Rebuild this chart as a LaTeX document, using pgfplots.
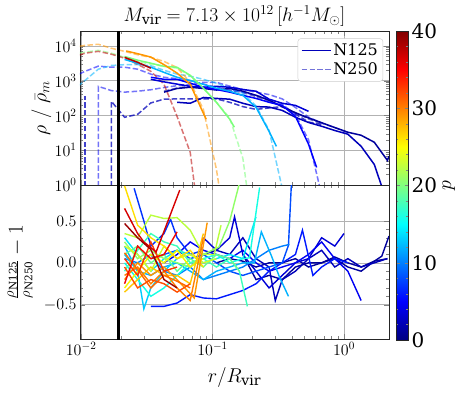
\RequirePackage{fix-cm}
\documentclass[border=0pt]{standalone}
\usepackage{fontspec}
\setmainfont{DejaVu Serif}
\usepackage{pgfplots}
\pgfplotsset{compat=1.18}
\usetikzlibrary{calc}
\definecolor{c1}{rgb}{0,0,0.61}
\definecolor{c2}{rgb}{0,0,0.73}
\definecolor{c3}{rgb}{0,0,0.84}
\definecolor{c4}{rgb}{0,0,0.95}
\definecolor{c5}{rgb}{0,0,1}
\definecolor{c6}{rgb}{0,0.1,1}
\definecolor{c7}{rgb}{0,0.2,1}
\definecolor{c8}{rgb}{0,0.3,1}
\definecolor{c10}{rgb}{0,0.5,1}
\definecolor{c12}{rgb}{0,0.7,1}
\definecolor{c13}{rgb}{0,0.8,1}
\definecolor{c14}{rgb}{0,0.9,0.97}
\definecolor{c15}{rgb}{0.08,1,0.89}
\definecolor{c17}{rgb}{0.24,1,0.73}
\definecolor{c19}{rgb}{0.40,1,0.56}
\definecolor{c20}{rgb}{0.48,1,0.48}
\definecolor{c21}{rgb}{0.56,1,0.40}
\definecolor{c23}{rgb}{0.73,1,0.24}
\definecolor{c24}{rgb}{0.81,1,0.16}
\definecolor{c26}{rgb}{0.97,0.96,0}
\definecolor{c27}{rgb}{1,0.87,0}
\definecolor{c28}{rgb}{1,0.78,0}
\definecolor{c30}{rgb}{1,0.59,0}
\definecolor{c31}{rgb}{1,0.5,0}
\definecolor{c32}{rgb}{1,0.41,0}
\definecolor{c33}{rgb}{1,0.31,0}
\definecolor{c34}{rgb}{1,0.22,0}
\definecolor{c36}{rgb}{0.95,0.04,0}
\definecolor{c37}{rgb}{0.84,0,0}
\definecolor{c38}{rgb}{0.73,0,0}
\definecolor{c39}{rgb}{0.61,0,0}
\tikzset{
  mysol/.style={line width=1.5pt},
  mydas/.style={line width=1.5pt, dash pattern=on 5.5pt off 2.4pt, opacity=0.55},
  mydasd/.style={line width=1.5pt, dash pattern=on 5.5pt off 2.4pt, opacity=0.75},
  mybl/.style={line width=1.4pt},
}
\pgfplotsset{legend image code/.code={\draw[#1] (0pt,0pt) -- (29pt,0pt);}}
\begin{document}
\begin{tikzpicture}
\begin{axis}[name=top,
  scale only axis, width=309pt, height=154pt,
  xmode=log, xmin=0.0098, xmax=2.2,
  ymode=log, ymin=1, ymax=2.7e4,
  tick align=inside, grid=major,
  major grid style={black!30, line width=0.6pt},
  axis line style={black!85, line width=0.7pt},
  major tick length=5pt, minor tick length=2.8pt,
  tick label style={font=\fontsize{16}{19}\selectfont},
  label style={font=\fontsize{20}{24}\selectfont},
  title={$M_{\mathrm{vir}}=7.13\times10^{12}\,[h^{-1}M_\odot]$},
  title style={at={(0.5,1)}, anchor=south, yshift=-4.5pt, font=\fontsize{19.5}{23}\selectfont},
  ytick={1,10,100,1000,10000}, xtick={0.01,0.1,1}, xticklabels={},
  ylabel={$\rho\ /\ \bar{\rho}_m$},
  ylabel style={at={(axis description cs:-0.125,0.5)}, anchor=center},
  legend style={at={(0.981,0.952)}, anchor=north east, draw=black!20, rounded corners=3pt,
    font=\fontsize{16}{19}\selectfont, row sep=2pt, inner sep=3pt},
  legend cell align=left,
]
\addplot[c2, mydasd, forget plot] coordinates {(0.0107,0.001)(0.0107,355)};
\addplot[c2, mydasd, forget plot] coordinates {(0.0170,0.001)(0.0170,255)(0.0214,89)(0.0269,108)(0.0339,230)(0.0427,295)(0.0537,300)(0.0676,300)(0.0851,300)(0.107,300)(0.135,240)(0.170,180)(0.214,150)(0.269,165)(0.339,180)(0.427,110)(0.537,65)(0.676,55)};
\addplot[c1, mydas, forget plot] coordinates {(0.0427,500)(0.0537,620)(0.0676,700)(0.0851,650)(0.107,560)(0.135,520)(0.170,460)(0.214,350)(0.269,260)(0.339,180)(0.427,120)(0.537,80)(0.676,58)};
\addplot[c4, mydas, forget plot] coordinates {(0.0135,0.001)(0.0135,690)(0.0170,520)(0.0214,470)(0.0269,500)(0.0339,550)(0.0427,640)(0.0537,720)(0.0676,790)(0.0851,900)(0.107,900)(0.135,700)(0.170,560)(0.214,470)(0.269,400)(0.339,300)(0.427,170)(0.537,90)(0.676,60)(0.851,45)(1.07,32)};
\addplot[c5, mydas, forget plot] coordinates {(0.0085,1260)(0.0107,1860)(0.0135,2630)(0.0170,2450)(0.0214,2450)(0.0269,2150)(0.0339,1550)(0.0427,1260)(0.0537,1150)(0.0676,1000)(0.0851,800)(0.107,650)(0.135,550)(0.170,470)(0.214,380)(0.269,300)(0.339,210)(0.427,107)(0.537,20)(0.653,0.9)};
\addplot[c12, mydas, forget plot] coordinates {(0.0085,500)(0.0107,1020)(0.0135,2150)(0.0170,2750)(0.0214,2900)(0.0269,2900)(0.0339,2700)(0.0427,2000)(0.0537,1550)(0.0676,1350)(0.0851,1100)(0.107,850)(0.135,600)(0.170,440)(0.214,190)(0.269,38)(0.339,0.8)};
\addplot[c20, mydas, forget plot] coordinates {(0.0085,5800)(0.0107,6600)(0.0135,7500)(0.0170,6200)(0.0214,4700)(0.0269,3600)(0.0339,3000)(0.0427,2600)(0.0537,2300)(0.0676,1400)(0.0851,600)(0.107,240)(0.135,85)(0.170,5.9)(0.214,0.01)};
\addplot[c30, mydas, forget plot] coordinates {(0.0085,9100)(0.0107,10400)(0.0135,11200)(0.0170,8600)(0.0214,7000)(0.0269,5600)(0.0339,4700)(0.0427,3600)(0.0537,2400)(0.0676,900)(0.0851,150)(0.107,2.8)(0.135,0.01)};
\addplot[c38, mydas, forget plot] coordinates {(0.0085,4700)(0.0107,6200)(0.0135,7000)(0.0170,5800)(0.0214,4450)(0.0269,2970)(0.0339,1870)(0.0427,790)(0.0537,94)(0.0676,8.7)(0.0851,0.01)};
\addplot[c1, mysol, forget plot] coordinates {(0.0427,470)(0.0537,600)(0.0676,650)(0.0851,600)(0.107,540)(0.135,600)(0.170,500)(0.214,380)(0.269,275)(0.339,180)(0.427,120)(0.537,85)(0.676,62)(0.851,45)(1.07,33)(1.35,27)(1.70,17)(2.14,5.1)(2.2,6.7)};
\addplot[c2, mysol, forget plot] coordinates {(0.0537,240)(0.0676,225)(0.0851,330)(0.107,310)(0.135,295)(0.170,225)(0.214,180)(0.269,175)(0.339,140)(0.427,89)(0.537,63)(0.676,49)(0.851,37)(1.07,29)(1.35,13)(1.70,3.9)(2.14,0.3)};
\addplot[c3, mysol, forget plot] coordinates {(0.0339,1100)(0.0427,930)(0.0537,800)(0.0676,690)(0.0851,650)(0.107,690)(0.135,650)(0.170,560)(0.214,500)(0.269,295)(0.339,225)(0.427,195)(0.537,132)};
\addplot[c5, mysol, forget plot] coordinates {(0.0339,1260)(0.0427,1100)(0.0537,1100)(0.0676,850)(0.0851,650)(0.107,560)(0.135,470)(0.170,380)(0.214,310)(0.269,240)(0.339,195)(0.427,95)(0.537,15)(0.619,3.2)};
\addplot[c12, mysol, forget plot] coordinates {(0.0214,4100)(0.0269,3170)(0.0339,2440)(0.0427,1740)(0.0537,1260)(0.0676,1020)(0.0851,790)(0.107,610)(0.135,500)(0.170,380)(0.214,173)(0.269,35)(0.306,12.9)};
\addplot[c20, mysol, forget plot] coordinates {(0.0214,5000)(0.0269,3900)(0.0339,3200)(0.0427,2600)(0.0537,2440)(0.0676,1430)(0.0851,610)(0.107,240)(0.135,78)(0.1465,46)};
\addplot[c30, mysol, forget plot] coordinates {(0.0220,7200)(0.0269,6000)(0.0339,4800)(0.0427,2900)(0.0537,1660)(0.0676,790)(0.0851,116)(0.0895,78)};
\addplot[c38, mysol, forget plot] coordinates {(0.0214,4700)(0.0269,3400)(0.0339,2300)};
\addplot[black, line width=2.5pt, forget plot] coordinates {(0.0192,0.001)(0.0192,1e6)};
\addlegendimage{c2, line width=1.5pt}
\addlegendentry{N125}
\addlegendimage{c2, line width=1.5pt, dash pattern=on 5.5pt off 2.4pt, opacity=0.55}
\addlegendentry{N250}
\coordinate (TL) at (rel axis cs:0,1);
\end{axis}
\begin{axis}[at={(top.south west)}, anchor=north west,
  scale only axis, width=309pt, height=154pt,
  xmode=log, xmin=0.0098, xmax=2.2,
  tick align=inside, grid=major,
  major grid style={black!30, line width=0.6pt},
  axis line style={black!85, line width=0.7pt},
  major tick length=5pt, minor tick length=2.8pt,
  tick label style={font=\fontsize{16}{19}\selectfont},
  label style={font=\fontsize{20}{24}\selectfont},
  ymin=-0.91, ymax=0.93, ytick={-0.5,0,0.5}, yticklabels={$-0.5$,$0.0$,$0.5$},
  minor y tick num=4, xtick={0.01,0.1,1},
  xlabel={$r/R_{\mathrm{vir}}$},
  xlabel style={at={(axis description cs:0.5,-0.25)}, anchor=center},
  ylabel={$\frac{\rho_{\mathrm{N125}}}{\rho_{\mathrm{N250}}}-1$},
  ylabel style={at={(axis description cs:-0.194,0.5)}, anchor=center, font=\fontsize{21}{25}\selectfont},
  colormap/jet, point meta min=0, point meta max=40,
  colorbar,
  colorbar shift/.style={xshift=0pt},
  colorbar style={at={($(TL)+(316pt,0pt)$)}, anchor=north west,
    scale only axis, width=12pt, height=309pt,
    ytick={0,10,20,30,40}, yticklabels={0,10,20,30,40}, minor y tick num=4,
    tick align=inside, major tick length=3.5pt, minor tick length=1.8pt,
    axis line style={black!85, line width=0.6pt},
    yticklabel style={font=\fontsize{20}{24}\selectfont},
    ylabel={$p$},
    ylabel style={font=\fontsize{20}{24}\selectfont, at={(axis description cs:4.4,0.5)}, anchor=center},
  },
]
\addplot[c1, mybl] coordinates {(0.107,0.0)(0.135,0.05)(0.170,0.02)(0.214,-0.05)(0.269,0.0)(0.339,0.0)(0.427,0.05)(0.537,-0.05)(0.676,0.0)(0.851,0.07)(1.07,0.0)(1.35,-0.05)(1.70,0.02)(1.94,0.08)(2.2,0.32)};
\addplot[c1, mybl] coordinates {(0.170,0.1)(0.214,-0.2)(0.269,-0.15)(0.339,-0.2)(0.427,-0.05)(0.537,0.0)(0.676,0.0)(0.851,0.05)(1.07,-0.05)(1.35,-0.1)(1.70,0.02)(2.14,0.05)};
\addplot[c2, mybl] coordinates {(0.0676,-0.05)(0.0851,0.1)(0.107,0.15)(0.135,0.1)(0.170,0.3)(0.214,0.05)(0.269,-0.05)(0.300,-0.45)(0.339,-0.2)(0.427,-0.1)(0.537,0.05)(0.676,0.15)(0.851,-0.05)(1.07,0.05)(1.35,-0.05)(1.70,0.0)(2.14,0.05)};
\addplot[c3, mybl] coordinates {(0.0851,0.3)(0.107,0.15)(0.135,0.3)(0.147,0.55)(0.170,0.1)(0.214,-0.1)(0.269,-0.3)(0.339,-0.15)(0.427,0.0)(0.537,0.05)(0.676,0.3)(0.851,0.2)(1.0,0.35)};
\addplot[c4, mybl] coordinates {(0.0427,0.0)(0.0537,0.1)(0.0676,0.25)(0.0851,0.15)(0.107,0.1)(0.135,0.05)(0.170,0.15)(0.214,0.0)(0.269,-0.1)(0.339,-0.05)(0.427,0.0)(0.537,0.1)(0.676,0.25)(0.851,0.05)(1.07,-0.1)(1.35,-0.45)};
\addplot[c6, mybl] coordinates {(0.0339,-0.52)(0.0427,-0.52)(0.0537,-0.48)(0.0676,-0.38)(0.0851,-0.42)(0.107,-0.43)(0.135,-0.38)(0.170,-0.33)(0.214,-0.25)(0.269,-0.10)(0.339,0.0)(0.427,0.1)(0.483,0.39)(0.58,-0.15)(0.676,-0.05)(0.851,0.05)(1.07,0.0)};
\addplot[c7, mybl] coordinates {(0.0253,0.89)(0.0300,0.5)(0.0339,0.2)(0.0427,0.35)(0.0479,0.52)(0.0537,0.3)(0.0676,0.1)(0.0851,0.15)};
\addplot[c8, mybl] coordinates {(0.0339,0.05)(0.0427,0.1)(0.0537,0.15)(0.0676,0.05)(0.0851,0.1)(0.107,0.0)(0.135,-0.1)(0.170,-0.15)(0.214,-0.1)(0.269,-0.05)(0.339,0.0)(0.378,0.21)(0.405,1.2)};
\addplot[c10, mybl] coordinates {(0.0214,0.05)(0.0269,0.0)(0.0339,0.1)(0.0427,-0.1)(0.0537,-0.15)(0.0676,-0.05)(0.0851,-0.2)(0.107,-0.15)(0.135,-0.1)(0.170,-0.05)(0.214,0.05)(0.269,0.15)(0.339,0.2)(0.385,0.22)};
\addplot[c12, mybl] coordinates {(0.0214,0.2)(0.0269,-0.1)(0.0339,-0.15)(0.0427,-0.05)(0.0537,0.0)(0.0676,-0.1)(0.0851,-0.2)(0.107,-0.1)(0.135,-0.05)(0.170,0.0)(0.208,0.0)(0.235,0.37)(0.281,0.08)(0.323,-0.17)(0.378,-0.4)};
\addplot[c13, mybl] coordinates {(0.0214,0.1)(0.0269,-0.1)(0.0300,-0.55)(0.0339,-0.3)(0.0427,-0.1)(0.0537,0.05)};
\addplot[c14, mybl] coordinates {(0.0214,0.3)(0.0269,0.1)(0.0339,-0.1)(0.0427,0.05)(0.0537,0.15)(0.0676,0.1)(0.0851,0.0)(0.107,0.05)(0.135,0.1)(0.170,0.05)(0.214,0.55)};
\addplot[c15, mybl] coordinates {(0.0214,0.0)(0.0269,-0.2)(0.0339,-0.4)(0.0427,-0.3)(0.0537,-0.15)(0.0676,0.0)(0.0851,0.05)(0.107,0.1)(0.135,0.0)(0.170,0.05)(0.191,0.06)(0.228,0.9)};
\addplot[c17, mybl] coordinates {(0.0214,-0.1)(0.0269,0.15)(0.0339,0.35)(0.0427,0.25)(0.0537,0.2)(0.0676,0.0)(0.0851,0.05)(0.107,-0.05)(0.135,0.05)(0.160,-0.1)(0.184,-0.52)};
\addplot[c19, mybl] coordinates {(0.0214,0.1)(0.0269,0.2)(0.0339,0.0)(0.0427,0.1)(0.0537,-0.1)(0.0676,0.05)(0.0851,-0.05)(0.107,0.1)(0.135,0.05)(0.160,-0.1)};
\addplot[c21, mybl] coordinates {(0.0214,0.25)(0.0269,0.05)(0.0339,0.15)(0.0427,0.05)(0.0537,0.0)(0.0676,-0.05)(0.0851,0.1)(0.112,0.19)(0.135,0.5)(0.160,0.95)};
\addplot[c23, mybl] coordinates {(0.0214,0.35)(0.0269,0.3)(0.0339,0.57)(0.0427,0.53)(0.0537,0.54)(0.0676,0.39)(0.0851,0.1)(0.103,0.1)(0.116,0.45)};
\addplot[c24, mybl] coordinates {(0.0214,0.2)(0.0269,0.1)(0.0339,-0.1)(0.0427,0.2)(0.0537,0.05)(0.0676,0.1)(0.0851,0.0)(0.107,0.05)};
\addplot[c26, mybl] coordinates {(0.0214,-0.3)(0.0269,-0.1)(0.0339,0.1)(0.0427,0.0)(0.0537,0.15)(0.0676,-0.05)(0.0851,0.05)};
\addplot[c27, mybl] coordinates {(0.0214,0.92)(0.0269,0.45)(0.0339,0.3)(0.0427,0.2)(0.0537,0.05)(0.0676,0.15)(0.0851,-0.05)};
\addplot[c28, mybl] coordinates {(0.0214,-0.35)(0.0269,-0.2)(0.0339,-0.05)(0.0427,-0.15)(0.0537,-0.15)(0.0676,-0.25)(0.0851,0.35)};
\addplot[c30, mybl] coordinates {(0.0214,-0.2)(0.0269,0.0)(0.0339,-0.15)(0.0427,-0.05)(0.0537,-0.2)(0.0725,-0.42)(0.091,0.48)};
\addplot[c31, mybl] coordinates {(0.0214,-0.15)(0.0269,-0.05)(0.0339,-0.25)(0.0427,-0.1)(0.0537,-0.3)(0.0676,-0.45)(0.085,0.3)};
\addplot[c32, mybl] coordinates {(0.0214,0.12)(0.0269,-0.08)(0.0339,-0.3)(0.0427,-0.15)(0.0537,-0.22)(0.0676,-0.30)};
\addplot[c33, mybl] coordinates {(0.0214,-0.05)(0.0269,-0.30)(0.0339,-0.20)(0.0427,-0.25)(0.0537,-0.35)(0.0676,-0.25)};
\addplot[c34, mybl] coordinates {(0.0214,0.05)(0.0269,-0.15)(0.0339,0.25)(0.0427,-0.10)(0.0537,-0.05)};
\addplot[c36, mybl] coordinates {(0.0214,-0.25)(0.0269,0.20)(0.0339,0.05)(0.0427,0.10)(0.0537,0.37)};
\addplot[c37, mybl] coordinates {(0.0214,0.65)(0.0269,0.35)(0.0300,0.25)(0.0372,0.13)(0.0563,0.87)};
\addplot[c39, mybl] coordinates {(0.0214,0.47)(0.0269,0.30)(0.0339,0.16)(0.0427,-0.20)(0.0537,-0.30)};
\addplot[black, line width=2.5pt] coordinates {(0.0192,-2)(0.0192,2)};
\end{axis}
\pgfresetboundingbox
\useasboundingbox ($(TL)+(-80pt,31pt)$) rectangle ++(466pt,-394pt);
\end{tikzpicture}
\end{document}
